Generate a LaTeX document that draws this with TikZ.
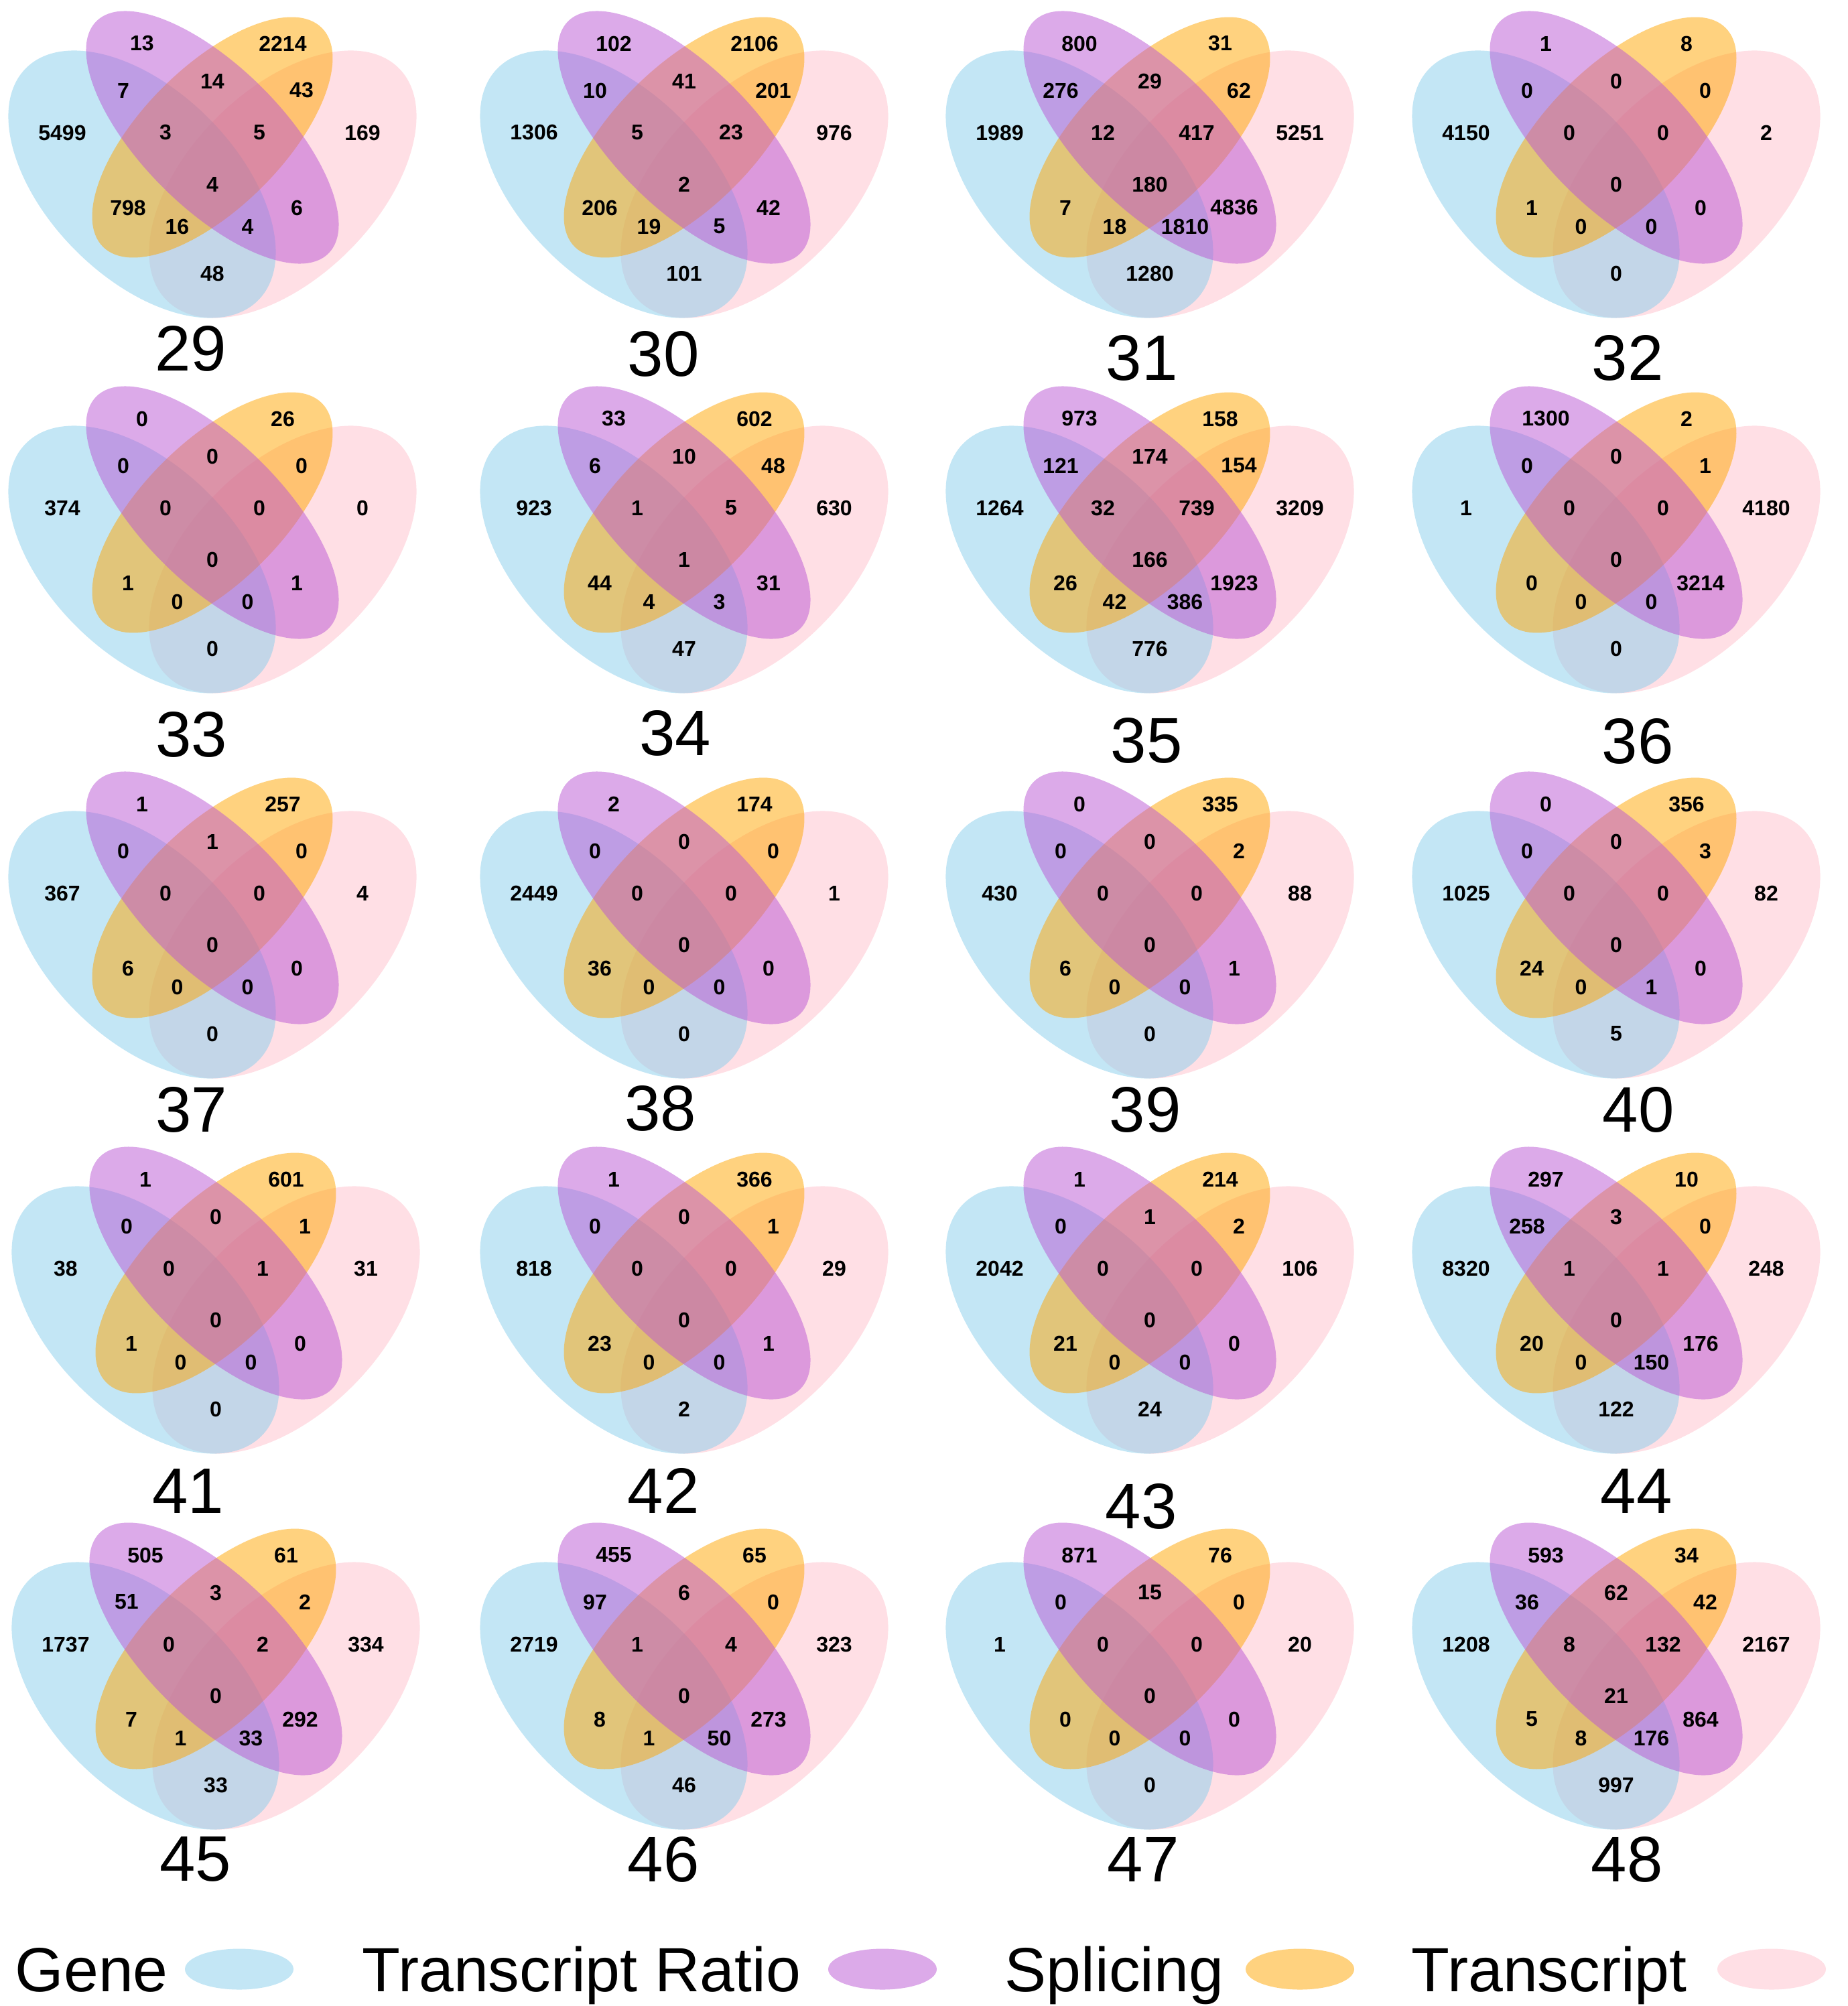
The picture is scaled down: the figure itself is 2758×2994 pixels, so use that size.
\documentclass[tikz,border=0pt]{standalone}
\usepackage{fontspec}
\setmainfont{Liberation Sans}
\usepackage{tikz}
\definecolor{genecol}{RGB}{135,206,235}
\definecolor{ratiocol}{RGB}{186,85,211}
\definecolor{splicecol}{RGB}{255,165,0}
\definecolor{transcol}{RGB}{255,192,203}
\tikzset{
  genearea/.style={fill=genecol, fill opacity=0.5},
  ratioarea/.style={fill=ratiocol, fill opacity=0.5},
  splicearea/.style={fill=splicecol, fill opacity=0.5},
  transarea/.style={fill=transcol, fill opacity=0.5},
  cnt/.style={font=\fontsize{9.1}{10}\selectfont\bfseries, inner sep=0pt},
  paneltitle/.style={font=\fontsize{27.3}{30}\selectfont, inner sep=0pt},
  legtext/.style={font=\fontsize{26.5}{30}\selectfont, inner sep=0pt, anchor=base west}
}

\begin{document}
\begin{tikzpicture}[x=0.01cm, y=-0.01cm]
  \useasboundingbox (0,0) rectangle (2758,2994);
  % venn centre / title / title position / 15 region counts
  \foreach \vx/\vy/\ttl/\tx/\ty/\qa/\qb/\qc/\qd/\qe/\qf/\qg/\qh/\qi/\qj/\qk/\ql/\qm/\qn/\qo in {
    317/275/29/285/520/13/2214/7/14/43/5499/3/5/169/4/798/6/16/4/48,
    1021/275/30/990/528/102/2106/10/41/201/1306/5/23/976/2/206/42/19/5/101,
    1716/275/31/1704/534/800/31/276/29/62/1989/12/417/5251/180/7/4836/18/1810/1280,
    2412/275/32/2429/534/1/8/0/0/0/4150/0/0/2/0/1/0/0/0/0,
    317/835/33/286/1096/0/26/0/0/0/374/0/0/0/0/1/1/0/0/0,
    1021/835/34/1008/1094/33/602/6/10/48/923/1/5/630/1/44/31/4/3/47,
    1716/835/35/1711/1105/973/158/121/174/154/1264/32/739/3209/166/26/1923/42/386/776,
    2412/835/36/2444/1106/1300/2/0/0/1/1/0/0/4180/0/0/3214/0/0/0,
    317/1410/37/286/1656/1/257/0/1/0/367/0/0/4/0/6/0/0/0/0,
    1021/1410/38/986/1654/2/174/0/0/0/2449/0/0/1/0/36/0/0/0/0,
    1716/1410/39/1709/1656/0/335/0/0/2/430/0/0/88/0/6/1/0/0/0,
    2412/1410/40/2445/1656/0/356/0/0/3/1025/0/0/82/0/24/0/0/1/5,
    322/1970/41/281/2225/1/601/0/0/1/38/0/1/31/0/1/0/0/0/0,
    1021/1970/42/990/2225/1/366/0/0/1/818/0/0/29/0/23/1/0/0/2,
    1716/1970/43/1703/2248/1/214/0/1/2/2042/0/0/106/0/21/0/0/0/24,
    2412/1970/44/2442/2225/297/10/258/3/0/8320/1/1/248/0/20/176/0/150/122,
    322/2531/45/292/2775/505/61/51/3/2/1737/0/2/334/0/7/292/1/33/33,
    1021/2531/46/990/2775/455/65/97/6/0/2719/1/4/323/0/8/273/1/50/46,
    1716/2531/47/1706/2775/871/76/0/15/0/1/0/0/20/0/0/0/0/0/0,
    2412/2531/48/2428/2775/593/34/36/62/42/1208/8/132/2167/21/5/864/8/176/997}{
    \begin{scope}[shift={(\vx,\vy)}]
      \fill[transarea, rotate around={45:(105,0)}] (105,0) ellipse [x radius=245, y radius=140];
      \fill[genearea, rotate around={-45:(-105,0)}] (-105,0) ellipse [x radius=245, y radius=140];
      \fill[splicearea, rotate around={45:(0,-70)}] (0,-70) ellipse [x radius=231, y radius=105];
      \fill[ratioarea, rotate around={-45:(0,-70)}] (0,-70) ellipse [x radius=245, y radius=105];
      \foreach \rg/\dx/\dy in {a/-105/-210, b/105/-210, c/-133/-140, d/0/-154, e/133/-140,
          f/-224/-77, g/-70/-77, h/70/-77, i/224/-77, j/0/0,
          k/-126/35, l/126/35, m/-52.5/63, n/52.5/63, o/0/133}
        \node[cnt] (v\ttl\rg) at (\dx,\dy) {\csname q\rg\endcsname};
    \end{scope}
    \node[paneltitle] (t\ttl) at (\tx,\ty) {\ttl};
  }
  % legend
  \node[legtext] (lgene) at (22,2972) {Gene};
  \node[legtext] (lratio) at (540,2972) {Transcript Ratio};
  \node[legtext] (lsplice) at (1499,2972) {Splicing};
  \node[legtext] (ltrans) at (2106,2972) {Transcript};
  \fill[genearea] (357,2939) ellipse [x radius=81, y radius=30.5];
  \fill[ratioarea] (1317,2939) ellipse [x radius=81, y radius=30.5];
  \fill[splicearea] (1940,2939) ellipse [x radius=81, y radius=30.5];
  \fill[transarea] (2644,2939) ellipse [x radius=81, y radius=30.5];
\end{tikzpicture}
\end{document}
